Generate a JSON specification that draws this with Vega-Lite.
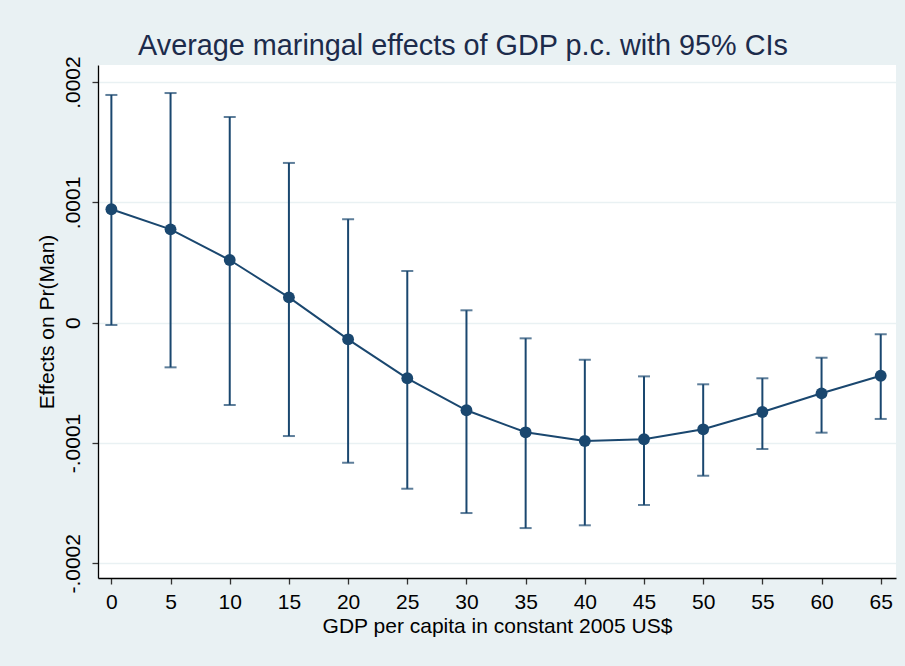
{
  "$schema": "https://vega.github.io/schema/vega-lite/v6.json",
  "width": 798,
  "height": 513,
  "autosize": {"type": "none"},
  "padding": {"left": 98, "top": 65, "right": 9, "bottom": 88},
  "background": "#e9f1f3",
  "view": {"fill": "white", "stroke": null},
  "title": {
    "text": "Average maringal effects of GDP p.c. with 95% CIs",
    "font": "Liberation Sans",
    "fontSize": 28.8,
    "fontWeight": "normal",
    "color": "#1c2b4b",
    "anchor": "middle",
    "frame": "group",
    "dx": -34,
    "dy": 10,
    "offset": 5
  },
  "data": {
    "values": [
      {"gdp": 0, "effect": 0.0000943, "lower": -0.0000019, "upper": 0.0001893},
      {"gdp": 5, "effect": 0.0000776, "lower": -0.0000371, "upper": 0.0001909},
      {"gdp": 10, "effect": 0.0000521, "lower": -0.0000684, "upper": 0.000171},
      {"gdp": 15, "effect": 0.0000211, "lower": -0.0000942, "upper": 0.0001328},
      {"gdp": 20, "effect": -0.0000138, "lower": -0.0001164, "upper": 0.000086},
      {"gdp": 25, "effect": -0.0000462, "lower": -0.000138, "upper": 0.000043},
      {"gdp": 30, "effect": -0.0000728, "lower": -0.0001582, "upper": 0.0000103},
      {"gdp": 35, "effect": -0.0000911, "lower": -0.0001707, "upper": -0.000013},
      {"gdp": 40, "effect": -0.0000983, "lower": -0.0001684, "upper": -0.0000308},
      {"gdp": 45, "effect": -0.0000969, "lower": -0.0001515, "upper": -0.0000446},
      {"gdp": 50, "effect": -0.0000886, "lower": -0.0001272, "upper": -0.0000512},
      {"gdp": 55, "effect": -0.0000742, "lower": -0.000105, "upper": -0.0000462},
      {"gdp": 60, "effect": -0.0000587, "lower": -0.0000914, "upper": -0.0000291},
      {"gdp": 65, "effect": -0.0000441, "lower": -0.00008, "upper": -0.0000096}
    ]
  },
  "encoding": {
    "x": {
      "field": "gdp",
      "type": "quantitative",
      "scale": {"domain": [-1.13, 66.29], "nice": false, "zero": false},
      "axis": {
        "title": "GDP per capita in constant 2005 US$",
        "values": [0, 5, 10, 15, 20, 25, 30, 35, 40, 45, 50, 55, 60, 65],
        "grid": false,
        "domainColor": "#000000",
        "domainWidth": 1.3,
        "tickColor": "#333333",
        "tickSize": 6,
        "tickWidth": 1.3,
        "labelFont": "Liberation Sans",
        "labelFontSize": 21,
        "labelColor": "#000000",
        "labelPadding": 7,
        "labelFlush": false,
        "labelOverlap": false,
        "titleFont": "Liberation Sans",
        "titleFontSize": 21,
        "titleFontWeight": "normal",
        "titleColor": "#000000",
        "titlePadding": 3
      }
    }
  },
  "layer": [
    {
      "mark": {"type": "rule", "color": "#1a476f", "strokeWidth": 2},
      "encoding": {
        "y": {
          "field": "lower",
          "type": "quantitative",
          "scale": {"domain": [-0.0002122, 0.0002142], "nice": false, "zero": false},
          "axis": {
            "title": "Effects on Pr(Man)",
            "values": [-0.0002, -0.0001, 0, 0.0001, 0.0002],
            "labelExpr": "datum.value == 0 ? '0' : (datum.value > 0 ? '.000' : '-.000') + toString(round(abs(datum.value) * 10000))",
            "grid": true,
            "gridColor": "#e9f1f3",
            "gridWidth": 1.6,
            "domainColor": "#000000",
            "domainWidth": 1.3,
            "tickColor": "#333333",
            "tickSize": 6,
            "tickWidth": 1.3,
            "labelAngle": 270,
            "labelAlign": "center",
            "labelBaseline": "bottom",
            "labelFont": "Liberation Sans",
            "labelFontSize": 21,
            "labelColor": "#000000",
            "labelPadding": 9,
            "labelFlush": false,
            "labelOverlap": false,
            "titleFont": "Liberation Sans",
            "titleFontSize": 21,
            "titleFontWeight": "normal",
            "titleColor": "#000000",
            "titlePadding": 5
          }
        },
        "y2": {"field": "upper"}
      }
    },
    {
      "mark": {"type": "tick", "color": "#1a476f", "orient": "horizontal", "size": 12, "thickness": 2},
      "encoding": {"y": {"field": "lower", "type": "quantitative"}}
    },
    {
      "mark": {"type": "tick", "color": "#1a476f", "orient": "horizontal", "size": 12, "thickness": 2},
      "encoding": {"y": {"field": "upper", "type": "quantitative"}}
    },
    {
      "mark": {"type": "line", "color": "#1a476f", "strokeWidth": 2},
      "encoding": {"y": {"field": "effect", "type": "quantitative"}}
    },
    {
      "mark": {"type": "point", "filled": true, "color": "#1a476f", "opacity": 1, "size": 140},
      "encoding": {"y": {"field": "effect", "type": "quantitative"}}
    }
  ]
}
